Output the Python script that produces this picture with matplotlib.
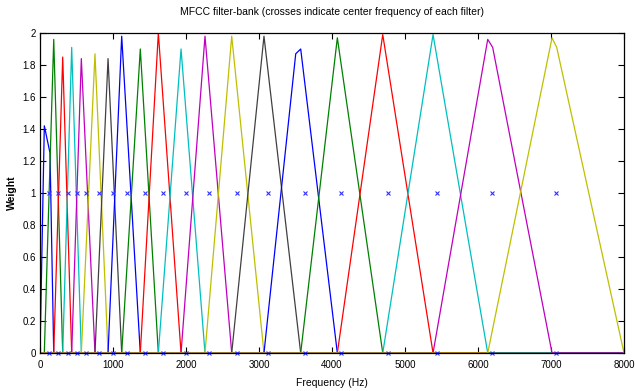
import numpy as np
import matplotlib
matplotlib.use("Agg")
import matplotlib.pyplot as plt

plt.rcParams['font.family'] = ['Liberation Sans', 'DejaVu Sans']

# Center frequencies (crosses), Hz
center_hz = [123, 251, 379, 503, 626, 808, 1004, 1192, 1434, 1689,
             1996, 2315, 2695, 3127, 3626, 4127, 4763, 5442, 6196, 7073]
# Peak location (Hz) and peak weight of each filter as drawn
peak_hz = [59, 188, 311, 434, 566, 753, 932, 1119, 1374, 1621,
           1932, 2260, 2626, 3068, 3571, 4073, 4695, 5384, 6133, 7014]
peak_w = [1.42, 1.96, 1.85, 1.91, 1.84, 1.87, 1.84, 1.98, 1.90, 2.00,
          1.90, 1.98, 1.98, 1.98, 1.90, 1.97, 1.99, 1.99, 1.96, 1.97]
# Extra shoulder vertex next to the peak (NaN = none)
shoulder_hz = [137, np.nan, np.nan, np.nan, np.nan, np.nan, np.nan, np.nan, np.nan, np.nan,
               np.nan, np.nan, np.nan, np.nan, 3503, np.nan, np.nan, np.nan, 6201, 7078]
shoulder_w = [1.25, np.nan, np.nan, np.nan, np.nan, np.nan, np.nan, np.nan, np.nan, np.nan,
              np.nan, np.nan, np.nan, np.nan, 1.87, np.nan, np.nan, np.nan, 1.91, 1.91]

f_max = 8000
colors = [(0, 0, 1), (0, 0.5, 0), (1, 0, 0), (0, 0.75, 0.75),
          (0.75, 0, 0.75), (0.75, 0.75, 0), (0.25, 0.25, 0.25)]

fig = plt.figure(figsize=(6.35, 3.91), dpi=100)
ax = fig.add_axes([0.063, 0.0972, 0.9197, 0.8184])

n = len(peak_hz)
for i in range(n):
    left = 0 if i == 0 else peak_hz[i - 1]
    right = f_max if i == n - 1 else peak_hz[i + 1]
    pts = [(0, 0), (left, 0), (peak_hz[i], peak_w[i]), (right, 0), (f_max, 0)]
    if not np.isnan(shoulder_hz[i]):
        pts.append((shoulder_hz[i], shoulder_w[i]))
    pts = sorted(pts, key=lambda p: p[0])
    xs = [p[0] for p in pts]
    ys = [p[1] for p in pts]
    ax.plot(xs, ys, color=colors[i % len(colors)], lw=0.9)

ax.plot(center_hz, np.ones(len(center_hz)), 'x', color=(0.2, 0.2, 1), ms=3, mew=0.8, ls='none')
ax.plot(center_hz, np.zeros(len(center_hz)), 'x', color=(0.2, 0.2, 1), ms=3, mew=0.8, ls='none',
        clip_on=False)

ax.set_xlim(0, f_max)
ax.set_ylim(0, 2)
ax.set_xticks(np.arange(0, 8001, 1000))
ax.set_yticks(np.arange(0, 2.01, 0.2))
ax.set_yticklabels(['0', '0.2', '0.4', '0.6', '0.8', '1', '1.2', '1.4', '1.6', '1.8', '2'])
ax.tick_params(direction='in', length=4, width=0.8, labelsize=7, top=True, right=True)
ax.tick_params(axis='x', pad=5)
ax.tick_params(axis='y', pad=3)
for s in ax.spines.values():
    s.set_linewidth(0.9)

ax.set_title('MFCC filter-bank (crosses indicate center frequency of each filter)', fontsize=7.5, pad=13)
ax.set_xlabel('Frequency (Hz)', fontsize=7.5, labelpad=6)
ax.set_ylabel('Weight', fontsize=7.5, fontweight='bold', labelpad=4)

fig.savefig('out.png', dpi=100)
